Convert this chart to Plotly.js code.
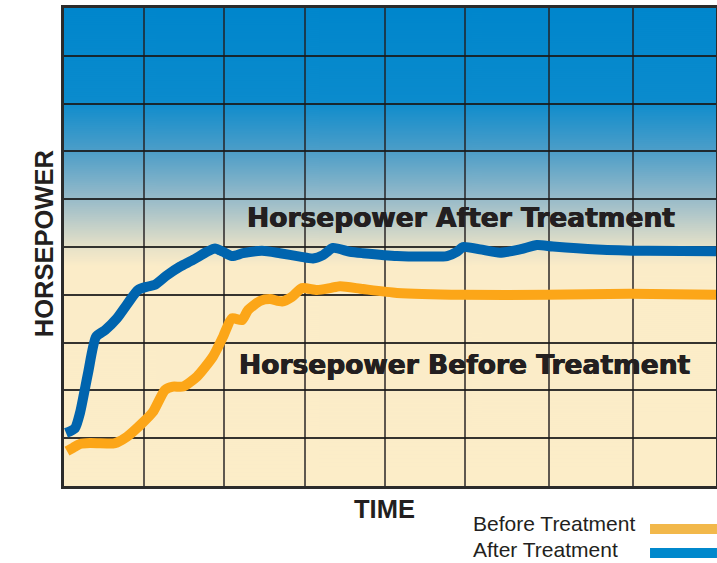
<!DOCTYPE html>
<html><head><meta charset="utf-8">
<script src="https://cdn.plot.ly/plotly-3.0.1.min.js"></script>
<style>html,body{margin:0;padding:0;background:#fff}#chart{width:717px;height:563px}</style>
</head><body><div id="chart"></div>
<script>
// Time (arbitrary units, 0..652) and horsepower (grid units, 0..10)
const afterX  = [2, 11, 16, 24, 32, 41, 53, 64, 74, 83, 91, 103, 116, 129, 143, 151, 159, 168, 179, 198, 216, 236, 249, 259, 269, 286, 299, 333, 366, 383, 393, 399, 416, 436, 456, 473, 489, 533, 583, 652];
const afterY  = [1.11, 1.21, 1.53, 2.36, 3.12, 3.26, 3.51, 3.83, 4.10, 4.17, 4.21, 4.41, 4.59, 4.73, 4.90, 4.97, 4.90, 4.81, 4.87, 4.92, 4.87, 4.80, 4.76, 4.83, 4.98, 4.90, 4.87, 4.81, 4.80, 4.81, 4.90, 5.00, 4.95, 4.88, 4.95, 5.04, 5.01, 4.95, 4.92, 4.91];
const beforeX = [3, 9, 16, 26, 49, 53, 63, 79, 89, 101, 109, 119, 133, 149, 159, 168, 178, 184, 196, 206, 218, 228, 238, 253, 266, 276, 299, 333, 399, 483, 566, 652];
const beforeY = [0.73, 0.80, 0.88, 0.90, 0.89, 0.91, 1.03, 1.33, 1.55, 2.01, 2.08, 2.08, 2.29, 2.71, 3.12, 3.51, 3.47, 3.68, 3.87, 3.91, 3.86, 3.96, 4.14, 4.10, 4.14, 4.18, 4.12, 4.04, 4.00, 4.00, 4.02, 4.00];
const gridX = [80, 160, 241, 321, 401, 485, 569];
const gridY = [1, 2, 3, 4, 5, 6, 7, 8, 9];
const seriesNames = ['Before Treatment', 'After Treatment'];
const labelAfter = 'Horsepower After Treatment';
const labelBefore = 'Horsepower Before Treatment';
const xTitle = 'TIME';
const yTitle = 'HORSEPOWER';

const colBefore = '#fca618', colAfter = '#0064ae';
const legBefore = '#f2b84b', legAfter = '#0088cc';
const ink = '#231f20';

// background gradient image
const cv = document.createElement('canvas');
cv.width = 4; cv.height = 478;
const ctx = cv.getContext('2d');
const g = ctx.createLinearGradient(0, 0, 0, 478);
g.addColorStop(0, '#0086cc');
g.addColorStop(0.19, '#0a8bcd');
g.addColorStop(0.30, '#4d9ec8');
g.addColorStop(0.40, '#98bbc9');
g.addColorStop(0.50, '#e6e1c8');
g.addColorStop(0.54, '#fbecc8');
g.addColorStop(1, '#fcedc8');
ctx.fillStyle = g; ctx.fillRect(0, 0, 4, 478);
const bgImg = cv.toDataURL('image/png');

const traces = [
  {x: beforeX, y: beforeY, name: seriesNames[0], mode: 'lines', showlegend: false,
   line: {color: colBefore, width: 10, shape: 'spline', smoothing: 0.6}},
  {x: afterX, y: afterY, name: seriesNames[1], mode: 'lines', showlegend: false,
   line: {color: colAfter, width: 10, shape: 'spline', smoothing: 0.6}}
];

const bigFont = {family: 'DejaVu Sans', size: 26.5, weight: 'bold', color: ink,
                 shadow: '0.5px 0 0 #231f20, -0.5px 0 0 #231f20'};
const titleFont = {family: 'Liberation Sans', size: 25.5, weight: 'bold', color: ink};
const legFont = {family: 'Liberation Sans', size: 21, color: ink};

const layout = {
  width: 717, height: 563,
  margin: {l: 64, r: 1, t: 8, b: 77, pad: 0},
  paper_bgcolor: '#ffffff', plot_bgcolor: '#fcedc8',
  showlegend: false,
  xaxis: {range: [0, 652], tickvals: gridX, showticklabels: false, ticks: '',
          showgrid: true, gridcolor: 'rgba(35,31,32,0.72)', gridwidth: 2,
          zeroline: false, showline: true, linecolor: '#2b2b2b', linewidth: 3, mirror: true, fixedrange: true},
  yaxis: {range: [0, 10], tickvals: gridY, showticklabels: false, ticks: '',
          showgrid: true, gridcolor: 'rgba(25,25,25,0.88)', gridwidth: 2,
          zeroline: false, showline: true, linecolor: '#2b2b2b', linewidth: 3, mirror: true, fixedrange: true},
  images: [{source: bgImg, xref: 'x', yref: 'y', x: 0, y: 10, sizex: 652, sizey: 10,
            xanchor: 'left', yanchor: 'top', sizing: 'stretch', layer: 'below'}],
  annotations: [
    {text: labelAfter, xref: 'x', yref: 'y', x: 397, y: 5.62, xanchor: 'center', yanchor: 'middle', showarrow: false, font: bigFont},
    {text: labelBefore, xref: 'x', yref: 'y', x: 400.5, y: 2.55, xanchor: 'center', yanchor: 'middle', showarrow: false, font: bigFont},
    {text: xTitle, xref: 'paper', yref: 'paper', x: 0.4916, y: -0.048, xanchor: 'center', yanchor: 'middle', showarrow: false, font: titleFont},
    {text: yTitle, xref: 'paper', yref: 'paper', x: -0.0307, y: 0.508, xanchor: 'center', yanchor: 'middle', textangle: -90, showarrow: false, font: titleFont},
    {text: seriesNames[0], xref: 'paper', yref: 'paper', x: 0.6235, y: -0.078, xanchor: 'left', yanchor: 'middle', showarrow: false, font: legFont},
    {text: seriesNames[1], xref: 'paper', yref: 'paper', x: 0.6235, y: -0.1325, xanchor: 'left', yanchor: 'middle', showarrow: false, font: legFont}
  ],
  shapes: [
    {type: 'line', xref: 'paper', yref: 'paper', x0: 0.8988, x1: 1.0015, y0: -0.09, y1: -0.09, line: {color: legBefore, width: 10}},
    {type: 'line', xref: 'paper', yref: 'paper', x0: 0.8988, x1: 1.0015, y0: -0.1402, y1: -0.1402, line: {color: legAfter, width: 10}}
  ]
};

Plotly.newPlot('chart', traces, layout, {staticPlot: true, displayModeBar: false});
</script>
</body></html>
